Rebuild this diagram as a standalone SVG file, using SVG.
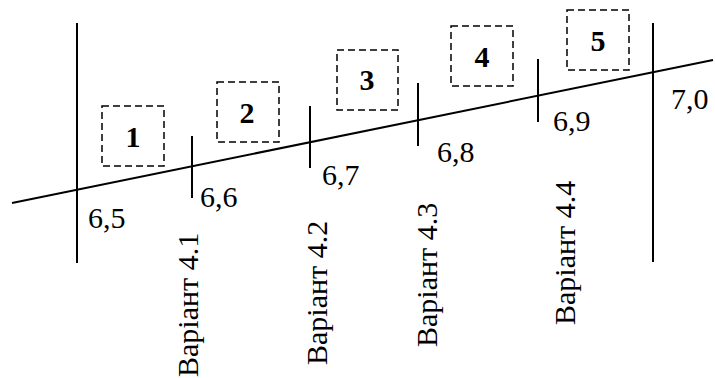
<svg xmlns="http://www.w3.org/2000/svg" width="715" height="378" viewBox="0 0 715 378">
<style>
.ln{stroke:#000;stroke-width:2;fill:none}
.box{stroke:#000;stroke-width:1.5;fill:none;stroke-dasharray:7,4}
text{font-family:'Liberation Serif','DejaVu Serif','Times New Roman',serif;font-size:30px;fill:#000}
.lbl{font-weight:bold;text-anchor:middle}
</style>
<rect width="715" height="378" fill="#fff"/>
<g id="connectors">
<line class="ln" x1="12" y1="203" x2="713" y2="60"/>
<line class="ln" x1="77" y1="23" x2="77" y2="263"/>
<line class="ln" x1="192" y1="136" x2="192" y2="198"/>
<line class="ln" x1="310" y1="106" x2="310" y2="168"/>
<line class="ln" x1="418" y1="83" x2="418" y2="146"/>
<line class="ln" x1="538" y1="59" x2="538" y2="122"/>
<line class="ln" x1="653" y1="23" x2="653" y2="262"/>
</g>
<g id="box1"><rect class="box" x="102" y="106" width="62" height="60"/><text class="lbl" x="133" y="147">1</text></g>
<g id="box2"><rect class="box" x="217" y="82" width="62" height="60"/><text class="lbl" x="247" y="123">2</text></g>
<g id="box3"><rect class="box" x="337" y="50" width="61" height="60"/><text class="lbl" x="367" y="90">3</text></g>
<g id="box4"><rect class="box" x="451" y="26" width="62" height="60"/><text class="lbl" x="482" y="67">4</text></g>
<g id="box5"><rect class="box" x="567" y="10" width="62" height="60"/><text class="lbl" x="598" y="51">5</text></g>
<g id="values">
<text x="88" y="228">6,5</text>
<text x="200" y="207">6,6</text>
<text x="322" y="185">6,7</text>
<text x="437" y="162">6,8</text>
<text x="553" y="131">6,9</text>
<text x="671" y="109">7,0</text>
</g>
<g id="variants">
<text transform="translate(198,377) rotate(-90)">Варіант 4.1</text>
<text transform="translate(327,365) rotate(-90)">Варіант 4.2</text>
<text transform="translate(437,347) rotate(-90)">Варіант 4.3</text>
<text transform="translate(575,325) rotate(-90)">Варіант 4.4</text>
</g>
</svg>
